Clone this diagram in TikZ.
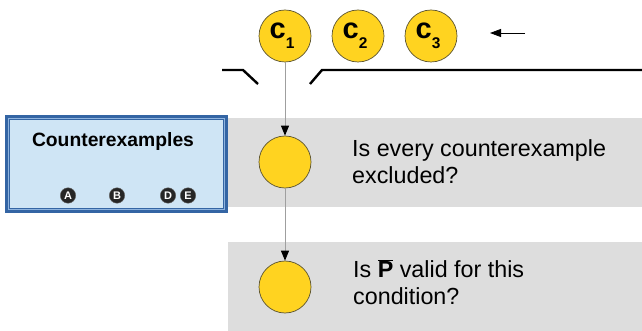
\documentclass[tikz,border=0pt]{standalone}
\usepackage{fontspec}
\setmainfont{Liberation Sans}
\usetikzlibrary{arrows.meta}

\definecolor{band}{HTML}{DDDDDD}
\definecolor{tok}{HTML}{FFD320}
\definecolor{tokedge}{HTML}{5C5430}
\definecolor{boxfill}{HTML}{CFE5F5}
\definecolor{boxline}{HTML}{3465A4}
\definecolor{boxinner}{HTML}{8FB4DF}

\tikzset{
  token/.style={circle, draw=tokedge, fill=tok, line width=0.7, minimum size=52, inner sep=0},
  badge/.style={circle, fill=black!85, draw=black!60, line width=0.4, text=white, inner sep=0,
                minimum size=15.5, font=\fontsize{11}{11}\selectfont\bfseries},
  flow/.style={draw=gray!75, line width=0.9, -{Triangle[length=10,width=8,color=black]}},
  feed/.style={draw=black, line width=0.8, -{Triangle[length=11,width=8]}},
  wall/.style={draw=black, line width=2.4},
  question/.style={anchor=north west, inner sep=0, align=left, font=\fontsize{23.3}{27}\selectfont},
}

\newcommand{\toklabel}[1]{{\fontsize{29}{29}\selectfont\bfseries c\raisebox{-10pt}{\fontsize{15.5}{15.5}\selectfont\bfseries #1}}\kern6pt}

\begin{document}
\begin{tikzpicture}[x=1pt, y=-1pt]
  \useasboundingbox (0,0) rectangle (642,331);

  % grey bands behind the two questions
  \fill[band] (228,118) rectangle (642,207);
  \fill[band] (228,242) rectangle (642,331);

  % counterexample store
  \node[draw=boxline, line width=5, fill=boxfill, rectangle, inner sep=0,
        minimum width=217.5, minimum height=92.5] (store) at (116.25,163.75) {};
  \draw[boxinner, line width=0.8] ([shift={(3.5,-3.5)}]store.south west) rectangle ([shift={(-3.5,3.5)}]store.north east);
  \node[anchor=base, inner sep=0, font=\fontsize{19.3}{19.3}\selectfont\bfseries] (title) at (113,147) {Counterexamples};

  \node[badge] (ba) at (68,195.5) {A};
  \node[badge] (bb) at (117,195.5) {B};
  \node[badge] (bd) at (168,195.5) {D};
  \node[badge] (be) at (188,195.5) {E};

  % candidate queue
  \node[token] (c1) at (285,36) {\toklabel{1}};
  \node[token] (c2) at (358,36) {\toklabel{2}};
  \node[token] (c3) at (431,36) {\toklabel{3}};

  \coordinate (inA) at (525,33);
  \coordinate (inB) at (490,33);
  \draw[feed] (inA) -- (inB);

  % funnel walls
  \draw[wall] (222,70) -- (243,70) -- (258,84);
  \draw[wall] (310,84) -- (322,70) -- (642,70);

  % checks
  \node[token] (q1) at (285,162) {};
  \node[token] (q2) at (285,287) {};

  \draw[flow] (c1) -- (q1);
  \draw[flow] (q1) -- (q2);

  \node[question] (t1) at (352,139) {Is every counterexample\\excluded?};
  \node[question] (t2) at (353,259) {Is \(\overline{\mbox{\bfseries P}}\) valid for this\\condition?};
\end{tikzpicture}
\end{document}
